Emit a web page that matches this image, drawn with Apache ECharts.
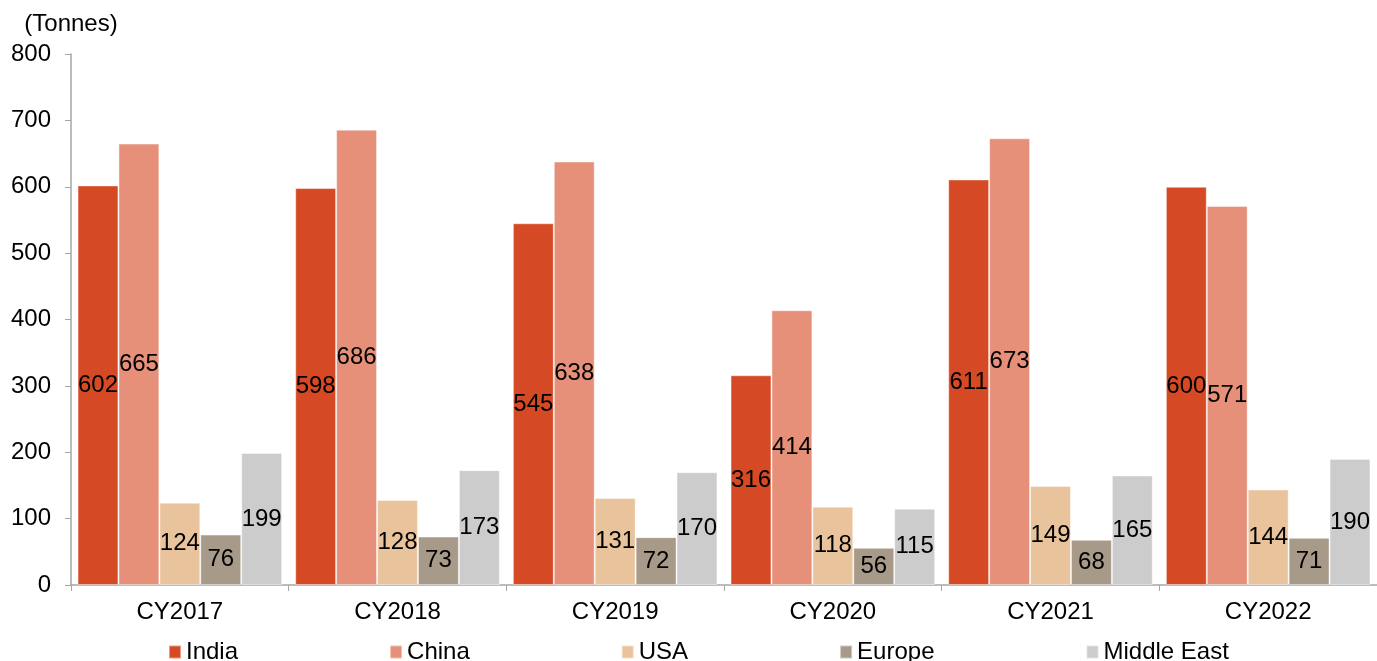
<!DOCTYPE html>
<html>
<head>
<meta charset="utf-8">
<title>Tonnes by region</title>
<script src="https://cdn.jsdelivr.net/npm/echarts@6/dist/echarts.min.js"></script>
<style>
  html, body { margin: 0; padding: 0; background: #fff; }
  #chart { width: 1377px; height: 661px; }
</style>
</head>
<body>
<div id="chart"></div>
<script>
const categories = ['CY2017', 'CY2018', 'CY2019', 'CY2020', 'CY2021', 'CY2022']
const india = [602, 598, 545, 316, 611, 600]
const china = [665, 686, 638, 414, 673, 571]
const usa = [124, 128, 131, 118, 149, 144]
const europe = [76, 73, 72, 56, 68, 71]
const middleEast = [199, 173, 170, 115, 165, 190]
const yTicks = [0, 100, 200, 300, 400, 500, 600, 700, 800]

const FONT = 'Liberation Sans, Arial, sans-serif'
const chart = echarts.init(document.getElementById('chart'))

// 每个系列的公共配置
function makeSeries(name, data, color) {
  return {
    name: name,
    type: 'bar',
    data: data,
    barGap: '0%',
    barCategoryGap: '6%',
    itemStyle: {
      color: color,
      borderColor: 'rgba(255,255,255,0.45)',
      borderWidth: 1
    },
    label: {
      show: true,
      position: 'inside',
      color: '#000',
      fontFamily: FONT,
      fontSize: 24
    }
  }
}

const option = {
  animation: false,
  textStyle: { fontFamily: FONT },
  grid: {
    left: 71,
    top: 54,
    bottom: 76,
    width: 1310,
    containLabel: false
  },
  legend: {
    left: 168,
    top: 640,
    padding: 0,
    itemWidth: 12,
    itemHeight: 13,
    itemGap: 151,
    icon: 'rect',
    textStyle: { fontFamily: FONT, fontSize: 24, color: '#000' },
    data: ['India', 'China', 'USA', 'Europe', 'Middle East']
  },
  xAxis: {
    type: 'category',
    data: categories,
    axisLine: { lineStyle: { color: '#A6A6A6', width: 1.5 } },
    axisTick: { show: true, length: 6, lineStyle: { color: '#A6A6A6' } },
    axisLabel: { color: '#000', fontFamily: FONT, fontSize: 24, margin: 15 }
  },
  yAxis: {
    type: 'value',
    min: yTicks[0],
    max: yTicks[yTicks.length - 1],
    interval: 100,
    name: '(Tonnes)',
    nameLocation: 'end',
    nameGap: 18,
    nameTextStyle: { color: '#000', fontFamily: FONT, fontSize: 24, align: 'center' },
    axisLine: { show: true, lineStyle: { color: '#A6A6A6', width: 1.5 } },
    axisTick: { show: true, length: 6, lineStyle: { color: '#A6A6A6' } },
    splitLine: { show: false },
    axisLabel: { color: '#000', fontFamily: FONT, fontSize: 24, margin: 20 }
  },
  series: [
    makeSeries('India', india, '#D54A24'),
    makeSeries('China', china, '#E6907A'),
    makeSeries('USA', usa, '#E9C39B'),
    makeSeries('Europe', europe, '#A89A89'),
    makeSeries('Middle East', middleEast, '#CCCCCC')
  ]
}

chart.setOption(option)
</script>
</body>
</html>
